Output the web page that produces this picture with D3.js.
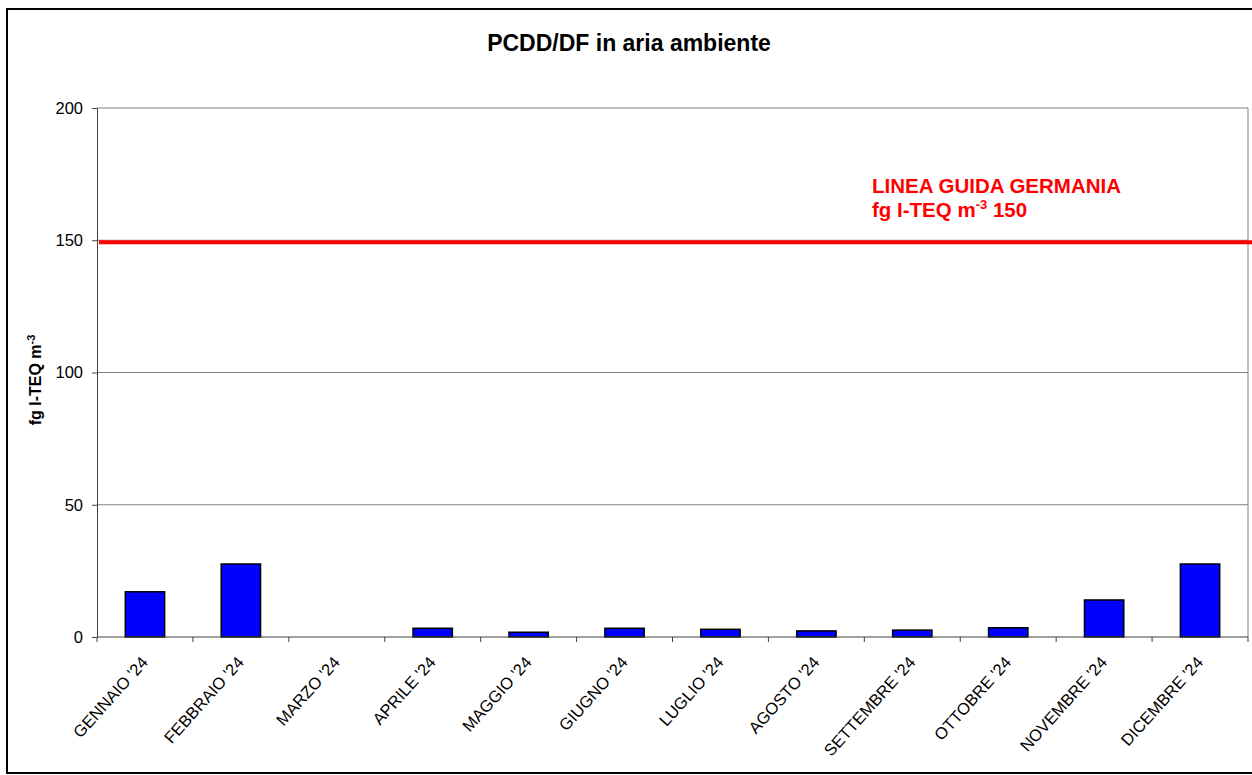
<!DOCTYPE html>
<html><head><meta charset="utf-8">
<script src="https://cdn.jsdelivr.net/npm/d3@7"></script>
<style>body{margin:0;background:#fff}svg{display:block;font-family:Arial,"Liberation Sans",sans-serif}</style>
</head><body><svg id="c" width="1252" height="775"></svg>
<script>
const categories = ["GENNAIO '24","FEBBRAIO '24","MARZO '24","APRILE '24","MAGGIO '24","GIUGNO '24","LUGLIO '24","AGOSTO '24","SETTEMBRE '24","OTTOBRE '24","NOVEMBRE '24","DICEMBRE '24"];
const values = [17.1, 27.6, 0, 3.3, 1.8, 3.3, 2.9, 2.3, 2.6, 3.5, 14.0, 27.6];
const yTicks = [0, 50, 100, 150, 200];
const guideValue = 150;
const guideLines = ["LINEA GUIDA GERMANIA", "fg I-TEQ m"];

const svg = d3.select("#c");
const m = {l:97, r:1248, t:108, b:637};

svg.append("rect").attr("x",7).attr("y",9).attr("width",1260).attr("height",764)
  .attr("fill","#fff").attr("stroke","#000").attr("stroke-width",2);

const x = d3.scaleBand().domain(categories).range([m.l, m.r]).paddingInner(0).paddingOuter(0);
const y = d3.scaleLinear().domain([0,200]).range([m.b, m.t]);

// gridlines
svg.append("g").selectAll("line").data(yTicks.filter(d=>d>0)).join("line")
  .attr("x1",m.l).attr("x2",m.r).attr("y1",d=>y(d)).attr("y2",d=>y(d))
  .attr("stroke","#808080").attr("stroke-width",1);
// plot right border
svg.append("line").attr("x1",m.r).attr("x2",m.r).attr("y1",m.t).attr("y2",m.b).attr("stroke","#808080");

// y axis
const ya = svg.append("g").attr("transform",`translate(${m.l},0)`)
  .call(d3.axisLeft(y).tickValues(yTicks).tickSize(5).tickPadding(9));
ya.select(".domain").attr("stroke","#404040");
ya.selectAll(".tick line").attr("stroke","#404040");
ya.selectAll("text").attr("font-size","16.5px").attr("fill","#000").attr("font-family","Arial, 'Liberation Sans', sans-serif");

// bars
const bw = x.bandwidth()*0.41;
svg.append("g").selectAll("rect").data(categories.map((c,i)=>({c, v:values[i]})).filter(d=>d.v>0)).join("rect")
  .attr("x",d=>x(d.c)+x.bandwidth()/2-bw/2).attr("width",bw)
  .attr("y",d=>y(d.v)).attr("height",d=>y(0)-y(d.v))
  .attr("fill","#0000FF").attr("stroke","#000").attr("stroke-width",1.5);

// x axis
const xa = svg.append("g").attr("transform",`translate(0,${m.b})`);
xa.append("line").attr("x1",m.l).attr("x2",m.r).attr("stroke","#404040");
xa.selectAll("line.t").data(d3.range(categories.length+1)).join("line").attr("class","t")
  .attr("x1",i=>m.l+i*x.step()).attr("x2",i=>m.l+i*x.step()).attr("y1",0).attr("y2",5).attr("stroke","#404040");
xa.selectAll("text").data(categories).join("text")
  .attr("transform",d=>`translate(${x(d)+x.bandwidth()/2+4},${26}) rotate(-48)`)
  .attr("text-anchor","end").attr("font-size","16.5px").attr("fill","#000").text(d=>d);

// guideline
svg.append("line").attr("x1",m.l+2).attr("x2",1252).attr("y1",y(guideValue)+2).attr("y2",y(guideValue)+2)
  .attr("stroke","#FF0000").attr("stroke-width",4);
const gt = svg.append("g").attr("fill","#FF0000").attr("font-weight","bold").attr("font-size","20.5px");
gt.append("text").attr("x",872).attr("y",193).text(guideLines[0]);
const t2 = gt.append("text").attr("x",872).attr("y",217);
t2.append("tspan").text(guideLines[1]);
t2.append("tspan").attr("dy",-8).attr("font-size","13px").text("-3");
t2.append("tspan").attr("dy",8).text(" " + guideValue);

// title
svg.append("text").attr("x",629).attr("y",51).attr("text-anchor","middle")
  .attr("font-weight","bold").attr("font-size","23px").text("PCDD/DF in aria ambiente");

// y label
const yl = svg.append("text").attr("transform","translate(41,380) rotate(-90)").attr("text-anchor","middle")
  .attr("font-weight","bold").attr("font-size","16px");
yl.append("tspan").text("fg I-TEQ m");
yl.append("tspan").attr("dy",-6).attr("font-size","11px").text("-3");
</script></body></html>
